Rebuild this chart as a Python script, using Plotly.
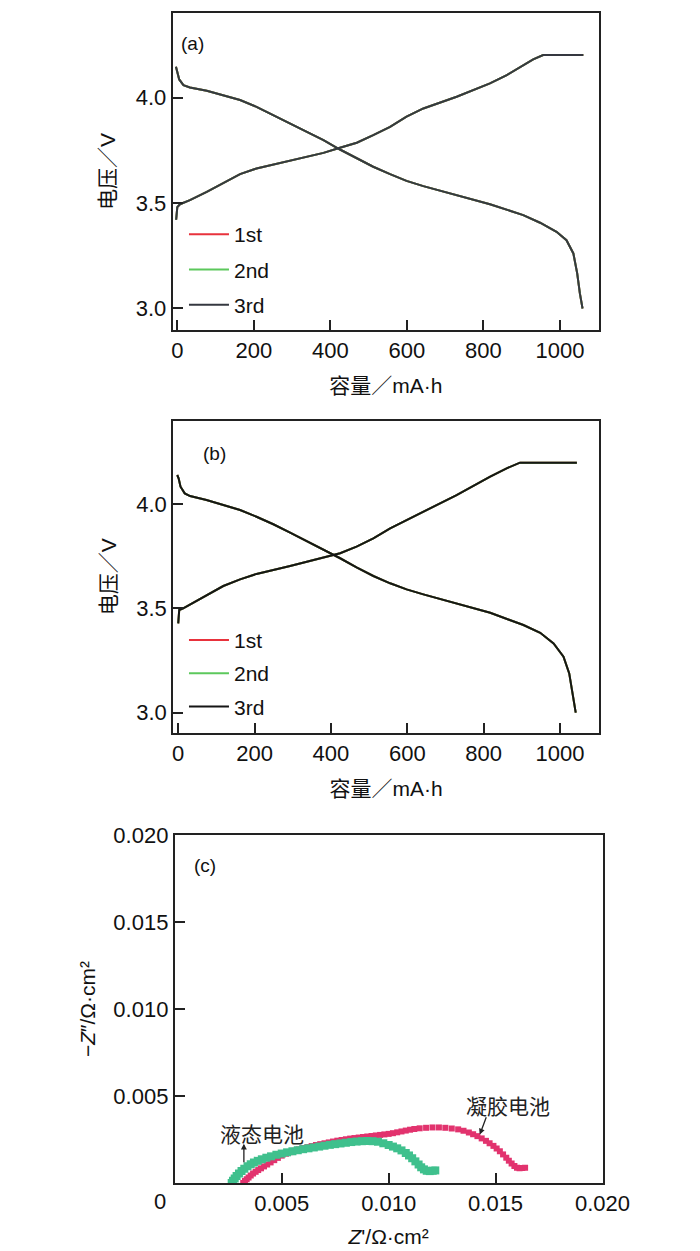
import plotly.graph_objects as go

# ---------------- data ----------------
cycles = ["1st", "2nd", "3rd"]
colors_a = ["#e8323c", "#5cc85c", "#353840"]
colors_b = ["#e8323c", "#5cc85c", "#151515"]

# panel (a): charge / discharge, capacity in mA·h, voltage in V
cap_a_chg = [-3, -2, 0, 7, 33, 77, 120, 164, 207, 294, 382, 425, 469, 512, 556, 599, 643, 730, 817, 861, 904, 930, 956, 1061]
v_a_chg = [3.42, 3.45, 3.48, 3.494, 3.513, 3.553, 3.596, 3.637, 3.664, 3.70, 3.738, 3.762, 3.786, 3.822, 3.862, 3.91, 3.949, 4.005, 4.068, 4.108, 4.155, 4.182, 4.203, 4.203]
cap_a_dis = [-3.5, 0, 5, 16, 33, 77, 120, 164, 207, 251, 294, 338, 382, 425, 469, 512, 556, 599, 643, 730, 817, 904, 948, 991, 1017, 1035, 1045, 1052, 1059]
v_a_dis = [4.147, 4.124, 4.087, 4.06, 4.049, 4.033, 4.013, 3.989, 3.957, 3.918, 3.878, 3.838, 3.799, 3.754, 3.712, 3.672, 3.637, 3.605, 3.58, 3.537, 3.494, 3.442, 3.406, 3.363, 3.323, 3.26, 3.165, 3.07, 2.998]

# panel (b)
cap_b_chg = [0, 2.6, 13, 31, 74, 118, 162, 205, 293, 380, 424, 467, 511, 555, 642, 729, 817, 860, 895, 1044]
v_b_chg = [3.428, 3.492, 3.50, 3.519, 3.564, 3.607, 3.639, 3.665, 3.703, 3.743, 3.764, 3.796, 3.835, 3.883, 3.963, 4.043, 4.131, 4.171, 4.198, 4.198]
cap_b_dis = [-2.6, 1, 6, 17, 31, 74, 118, 162, 205, 249, 293, 336, 380, 424, 467, 511, 555, 598, 642, 729, 817, 904, 948, 983, 1009, 1024, 1032, 1041]
v_b_dis = [4.139, 4.123, 4.083, 4.051, 4.038, 4.019, 3.995, 3.971, 3.939, 3.903, 3.863, 3.823, 3.78, 3.74, 3.696, 3.655, 3.62, 3.591, 3.567, 3.524, 3.479, 3.42, 3.383, 3.332, 3.268, 3.188, 3.093, 3.0]

# panel (c): Nyquist plots, Ω·cm²
gel_zre = [0.00320, 0.00328, 0.00336, 0.00345, 0.00355, 0.00366, 0.00378, 0.00390, 0.00403, 0.00417,
           0.00432, 0.00448, 0.00465, 0.00482, 0.00500, 0.00520, 0.00540, 0.00560, 0.00580, 0.00600,
           0.00620, 0.00640, 0.00660, 0.00680, 0.00700, 0.00720, 0.00740, 0.00760, 0.00780, 0.00800,
           0.00820, 0.00840, 0.00860, 0.00880, 0.00900, 0.00920, 0.00940, 0.00960, 0.00980, 0.01000,
           0.01020, 0.01040, 0.01060, 0.01080, 0.01100, 0.01120, 0.01145, 0.01175, 0.01205, 0.01235,
           0.01265, 0.01295, 0.01325, 0.01350, 0.01375, 0.01395, 0.01415, 0.01435, 0.01455, 0.01472,
           0.01490, 0.01505, 0.01520, 0.01535, 0.01550, 0.01562, 0.01575, 0.01588, 0.01600, 0.01612,
           0.01625, 0.01638]
gel_zim = [0.00000, 0.00011, 0.00021, 0.00032, 0.00043, 0.00054, 0.00064, 0.00074, 0.00084, 0.00095,
           0.00106, 0.00118, 0.00131, 0.00144, 0.00157, 0.00168, 0.00177, 0.00185, 0.00193, 0.00200,
           0.00206, 0.00212, 0.00218, 0.00223, 0.00228, 0.00233, 0.00238, 0.00243, 0.00247, 0.00251,
           0.00255, 0.00258, 0.00261, 0.00264, 0.00267, 0.00270, 0.00273, 0.00276, 0.00279, 0.00282,
           0.00286, 0.00291, 0.00296, 0.00301, 0.00306, 0.00310, 0.00314, 0.00317, 0.00319, 0.00319,
           0.00317, 0.00313, 0.00308, 0.00300, 0.00290, 0.00280, 0.00269, 0.00256, 0.00242, 0.00228,
           0.00213, 0.00198, 0.00182, 0.00164, 0.00145, 0.00128, 0.00112, 0.00097, 0.00087, 0.00084,
           0.00086, 0.00088]

liq_zre = [0.00266, 0.00272, 0.00280, 0.00289, 0.00300, 0.00312, 0.00325, 0.00340, 0.00355, 0.00370,
           0.00388, 0.00407, 0.00428, 0.00450, 0.00475, 0.00500, 0.00525, 0.00550, 0.00575, 0.00600,
           0.00625, 0.00650, 0.00675, 0.00700, 0.00725, 0.00750, 0.00775, 0.00800, 0.00825, 0.00850,
           0.00875, 0.00900, 0.00925, 0.00950, 0.00975, 0.01000, 0.01020, 0.01040, 0.01060, 0.01080,
           0.01095, 0.01110, 0.01125, 0.01140, 0.01152, 0.01165, 0.01178, 0.01192, 0.01206, 0.01218]
liq_zim = [0.00000, 0.00012, 0.00026, 0.00040, 0.00055, 0.00069, 0.00082, 0.00096, 0.00107, 0.00117,
           0.00127, 0.00136, 0.00145, 0.00153, 0.00162, 0.00169, 0.00176, 0.00182, 0.00188, 0.00194,
           0.00199, 0.00204, 0.00209, 0.00214, 0.00219, 0.00223, 0.00227, 0.00231, 0.00235, 0.00238,
           0.00240, 0.00241, 0.00240, 0.00237, 0.00228, 0.00218, 0.00209, 0.00199, 0.00187, 0.00172,
           0.00158, 0.00142, 0.00124, 0.00106, 0.00090, 0.00078, 0.00070, 0.00068, 0.00070, 0.00072]

xticks_ab = [0, 200, 400, 600, 800, 1000]
yticks_ab = [3.0, 3.5, 4.0]
ticks_c = [0.005, 0.010, 0.015, 0.020]

# ---------------- figure ----------------
LAT = "Liberation Sans, Arial, sans-serif"
CJK = "Liberation Sans, Noto Sans CJK SC, sans-serif"
INK = "#111111"

fig = go.Figure()

for i, name in enumerate(cycles):
    fig.add_trace(go.Scatter(
        x=cap_a_chg + [None] + cap_a_dis, y=v_a_chg + [None] + v_a_dis,
        mode="lines", name=name, line=dict(color=colors_a[i], width=2),
        xaxis="x", yaxis="y", legend="legend", legendgroup="a" + name))
for i, name in enumerate(cycles):
    fig.add_trace(go.Scatter(
        x=cap_b_chg + [None] + cap_b_dis, y=v_b_chg + [None] + v_b_dis,
        mode="lines", name=name, line=dict(color=colors_b[i], width=2),
        xaxis="x2", yaxis="y2", legend="legend2", legendgroup="b" + name))

fig.add_trace(go.Scatter(x=gel_zre, y=gel_zim, mode="markers", name="凝胶电池",
                         marker=dict(symbol="square", size=6, color="#e2336e"),
                         xaxis="x3", yaxis="y3", showlegend=False))
fig.add_trace(go.Scatter(x=liq_zre, y=liq_zim, mode="markers", name="液态电池",
                         marker=dict(symbol="square", size=8, color="#3fc08d"),
                         xaxis="x3", yaxis="y3", showlegend=False))

frame = dict(showline=True, linecolor="#222222", linewidth=2, mirror=True,
             ticks="inside", ticklen=10, tickwidth=2, tickcolor="#222222",
             showgrid=False, zeroline=False, automargin=False,
             tickfont=dict(family=LAT, size=22, color=INK))

ab_x = dict(frame, range=[-12, 1102], tickvals=xticks_ab,
            title=dict(text="容量／mA·h", font=dict(family=CJK, size=21, color=INK), standoff=16))
ab_y = dict(frame, range=[2.896, 4.404], tickvals=yticks_ab, tickformat=".1f",
            title=dict(text="电压／V", font=dict(family=CJK, size=21, color=INK), standoff=14))

fig.update_layout(
    width=700, height=1251, margin=dict(l=0, r=0, t=0, b=0, autoexpand=False),
    paper_bgcolor="white", plot_bgcolor="white",
    xaxis=dict(ab_x, domain=[0.2353, 0.8443], anchor="y"),
    yaxis=dict(ab_y, domain=[0.7426, 0.9962], anchor="x"),
    xaxis2=dict(ab_x, domain=[0.2361, 0.8443], anchor="y2", range=[-13, 1102]),
    yaxis2=dict(ab_y, domain=[0.4207, 0.6699], anchor="x2", range=[2.904, 4.398]),
    xaxis3=dict(frame, domain=[0.2383, 0.8493], anchor="y3", range=[0, 0.020],
                tickvals=ticks_c, tickformat=".3f",
                title=dict(text="<i>Z</i>'/Ω·cm²", font=dict(family=LAT, size=21, color=INK), standoff=14)),
    yaxis3=dict(frame, domain=[0.0608, 0.3389], anchor="x3", range=[0, 0.020],
                tickvals=ticks_c, tickformat=".3f",
                title=dict(text="−<i>Z</i>″/Ω·cm²", font=dict(family=LAT, size=21, color=INK), standoff=12)),
    legend=dict(x=0.2514, y=0.8353, xanchor="left", yanchor="top", traceorder="grouped",
                tracegroupgap=5, itemwidth=40, bgcolor="rgba(0,0,0,0)",
                font=dict(family=LAT, size=21, color=INK)),
    legend2=dict(x=0.2514, y=0.5110, xanchor="left", yanchor="top", traceorder="grouped",
                 tracegroupgap=3, itemwidth=40, bgcolor="rgba(0,0,0,0)",
                 font=dict(family=LAT, size=21, color=INK)),
    showlegend=True,
)

ann_font = dict(family=LAT, size=19, color=INK)
fig.add_annotation(x=41, y=4.26, xref="x", yref="y", text="(a)", showarrow=False, font=ann_font)
fig.add_annotation(x=96, y=4.24, xref="x2", yref="y2", text="(b)", showarrow=False, font=ann_font)
fig.add_annotation(x=0.00141, y=0.01825, xref="x3", yref="y3", text="(c)", showarrow=False, font=ann_font)
fig.add_annotation(x=0, y=0, xref="x3", yref="y3", text="0", showarrow=False, xshift=-15, yshift=-19,
                   font=dict(family=LAT, size=22, color=INK))
# labels and arrows in (c)
fig.add_annotation(x=0.00407, y=0.00289, xref="x3", yref="y3", text="液态电池", showarrow=False,
                   font=dict(family="Noto Sans CJK SC", size=21, color="#222222"))
fig.add_annotation(x=0.00323, y=0.00226, ax=0.00323, ay=0.00111, xref="x3", yref="y3",
                   axref="x3", ayref="y3", text="", showarrow=True, arrowhead=2, arrowsize=0.9,
                   arrowwidth=1.3, arrowcolor="#222222")
fig.add_annotation(x=0.01559, y=0.00450, xref="x3", yref="y3", text="凝胶电池", showarrow=False,
                   font=dict(family="Noto Sans CJK SC", size=21, color="#222222"))
fig.add_annotation(x=0.01426, y=0.00278, ax=0.01459, ay=0.00386, xref="x3", yref="y3",
                   axref="x3", ayref="y3", text="", showarrow=True, arrowhead=2, arrowsize=0.9,
                   arrowwidth=1.3, arrowcolor="#222222")

fig.write_html("out.html")
